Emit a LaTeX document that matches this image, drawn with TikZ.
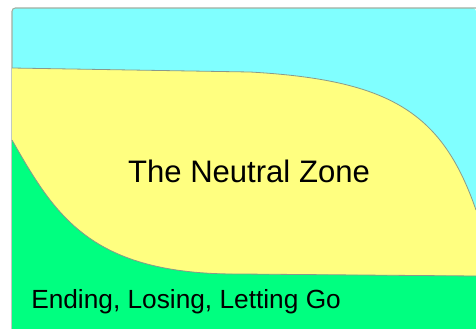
\documentclass[tikz,border=0pt]{standalone}
\usepackage{fontspec}
\setmainfont{Liberation Sans}
\usepackage{tikz}
\usetikzlibrary{positioning}

\definecolor{skycyan}{HTML}{80FFFF}
\definecolor{zoneyellow}{HTML}{FFFF80}
\definecolor{endgreen}{HTML}{00FF80}
\definecolor{edgegray}{HTML}{8A9A8A}

\tikzset{
  zone/.style={draw=edgegray, line width=0.6pt},
  zonelabel/.style={inner sep=0pt, text=black}
}

\begin{document}
\begin{tikzpicture}[x=0.75pt, y=-0.75pt]
  \useasboundingbox (0,0) rectangle (476,329);
  % Fond (cadre avec coin arrondi)
  \fill[skycyan, rounded corners=2.5pt] (12,329) -- (12,8) -- (476,8) [sharp corners] -- (476,329) -- cycle;
  \draw[edgegray!80, line width=0.8pt, rounded corners=2.5pt] (12,329) -- (12,8) -- (476,8);
  % Zone neutre (jaune)
  \fill[zoneyellow] (12,68) -- (250,72) .. controls (390,80) and (442,112) .. (476,210) -- (476,329) -- (12,329) -- cycle;
  \draw[zone] (12,68) -- (250,72) .. controls (390,80) and (442,112) .. (476,210);
  % Fin, perte (vert)
  \fill[endgreen] (12,140) .. controls (55,215) and (90,275) .. (240,274) -- (476,276) -- (476,329) -- (12,329) -- cycle;
  \draw[zone] (12,140) .. controls (55,215) and (90,275) .. (240,274) -- (476,276);
  % Textes
  \node[zonelabel, anchor=base, font=\fontsize{23.3}{28}\selectfont] (neutral) at (249,182) {The Neutral Zone};
  \node[zonelabel, anchor=base west, font=\fontsize{19.7}{24}\selectfont] (ending) at (31,308) {Ending, Losing, Letting Go};
\end{tikzpicture}
\end{document}
